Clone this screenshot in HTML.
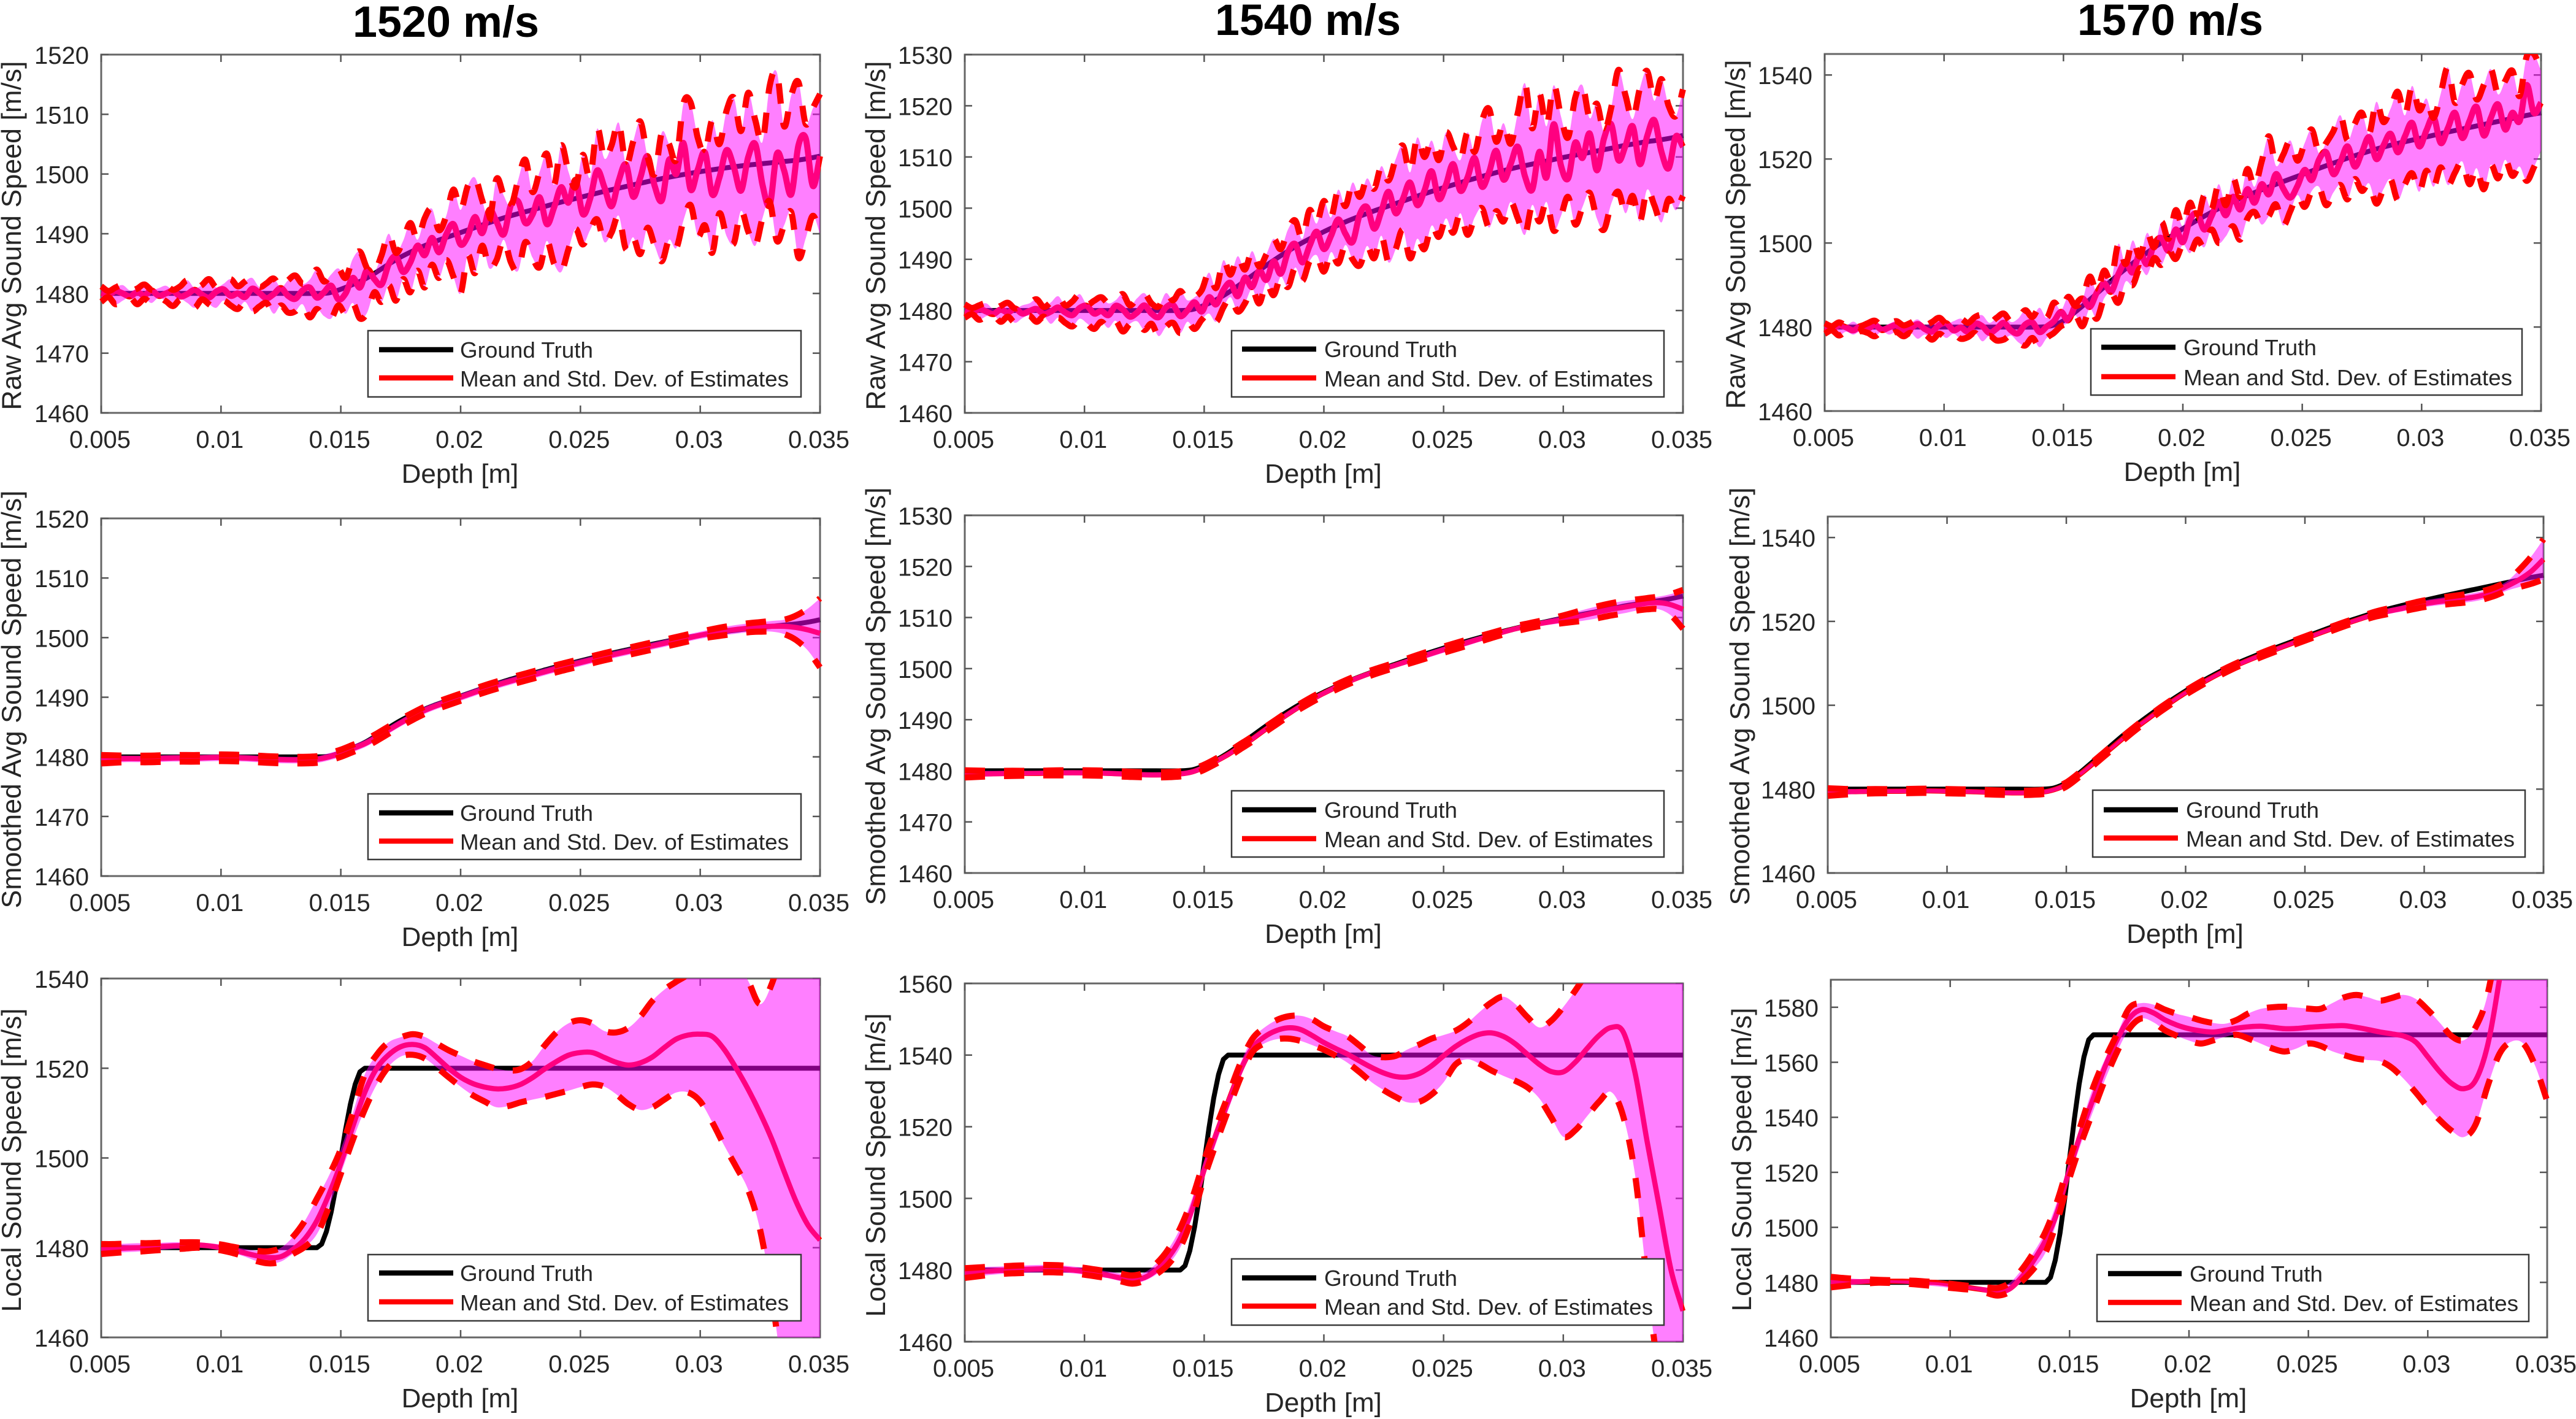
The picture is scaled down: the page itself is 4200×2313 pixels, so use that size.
<!DOCTYPE html>
<html lang="en">
<head>
<meta charset="utf-8">
<title>Sound speed estimates</title>
<style>
html,body{margin:0;padding:0;background:#fff;width:4200px;height:2313px;overflow:hidden}
svg{display:block}
text{font-family:"Liberation Sans",sans-serif;fill:#262626}
.ttl{font-weight:bold;font-size:71px;fill:#000}
</style>
</head>
<body>
<svg id="fig" xmlns="http://www.w3.org/2000/svg" width="4200" height="2313" viewBox="0 0 4200 2313">
<rect x="0" y="0" width="4200" height="2313" fill="#fff"/>
<text class="ttl" x="575" y="60" textLength="304" lengthAdjust="spacingAndGlyphs">1520 m/s</text>
<text class="ttl" x="1981" y="57" textLength="303" lengthAdjust="spacingAndGlyphs">1540 m/s</text>
<text class="ttl" x="3387" y="57" textLength="303" lengthAdjust="spacingAndGlyphs">1570 m/s</text>
</svg>
<script>
const xTicks=[0.005,0.01,0.015,0.02,0.025,0.03,0.035];
const xTickLabels=['0.005','0.01','0.015','0.02','0.025','0.03','0.035'];
const yTicks10to1520=[1460,1470,1480,1490,1500,1510,1520];
const yTicks10to1530=[1460,1470,1480,1490,1500,1510,1520,1530];
const yTicks20to1540=[1460,1480,1500,1520,1540];
const yTicks20to1560=[1460,1480,1500,1520,1540,1560];
const yTicks20to1580=[1460,1480,1500,1520,1540,1560,1580];
const legendEntries=['Ground Truth','Mean and Std. Dev. of Estimates'];
const xAxisTitle='Depth [m]';
const rawTitle='Raw Avg Sound Speed [m/s]';
const smoothTitle='Smoothed Avg Sound Speed [m/s]';
const localTitle='Local Sound Speed [m/s]';

const rawDepth=[0.005,0.0053,0.0056,0.0059,0.0062,0.0065,0.0068,0.0071,0.0074,0.0077,0.008,0.0083,0.0086,0.0089,0.0092,0.0095,0.0098,0.0101,0.0104,0.0107,0.011,0.0113,0.0116,0.0119,0.0122,0.0125,0.0128,0.0131,0.0134,0.0137,0.014,0.0143,0.0146,0.0149,0.0152,0.0155,0.0158,0.0161,0.0164,0.0167,0.017,0.0173,0.0176,0.0179,0.0182,0.0185,0.0188,0.0191,0.0194,0.0197,0.02,0.0203,0.0206,0.0209,0.0212,0.0215,0.0218,0.0221,0.0224,0.0227,0.023,0.0233,0.0236,0.0239,0.0242,0.0245,0.0248,0.0251,0.0254,0.0257,0.026,0.0263,0.0266,0.0269,0.0272,0.0275,0.0278,0.0281,0.0284,0.0287,0.029,0.0293,0.0296,0.0299,0.0302,0.0305,0.0308,0.0311,0.0314,0.0317,0.032,0.0323,0.0326,0.0329,0.0332,0.0335,0.0338,0.0341,0.0344,0.0347,0.035];
const smoothDepth=[0.005,0.006,0.007,0.008,0.009,0.01,0.011,0.012,0.013,0.014,0.0145,0.015,0.0155,0.016,0.0165,0.017,0.0175,0.018,0.0185,0.019,0.02,0.021,0.022,0.023,0.024,0.025,0.026,0.027,0.028,0.029,0.03,0.031,0.032,0.0325,0.033,0.0335,0.034,0.0345,0.035];
const localDepth=[0.005,0.0055,0.006,0.0065,0.007,0.0075,0.008,0.0085,0.009,0.0095,0.01,0.0105,0.011,0.0115,0.012,0.0125,0.013,0.0135,0.014,0.0145,0.015,0.0155,0.016,0.0165,0.017,0.0175,0.018,0.0185,0.019,0.0195,0.02,0.0205,0.021,0.0215,0.022,0.0225,0.023,0.0235,0.024,0.0245,0.025,0.0255,0.026,0.0265,0.027,0.0275,0.028,0.0285,0.029,0.0295,0.03,0.0305,0.031,0.0315,0.032,0.0325,0.033,0.0335,0.034,0.0345,0.035];
const stepDepth=[0.005,0.014,0.0142,0.0144,0.0146,0.0148,0.015,0.0152,0.0154,0.0156,0.0158,0.016,0.035];

const rawMean1520=[1480.1,1479.8,1480.4,1480.0,1479.5,1480.2,1479.7,1480.5,1479.6,1480.0,1480.4,1479.5,1479.9,1480.6,1479.8,1479.3,1480.3,1480.7,1479.6,1480.0,1479.4,1480.8,1480.1,1479.2,1479.9,1480.9,1479.6,1479.1,1480.5,1481.0,1479.3,1480.2,1481.3,1479.0,1480.0,1482.6,1481.0,1484.0,1482.4,1481.5,1484.9,1486.2,1483.6,1485.2,1488.0,1486.4,1489.3,1486.9,1489.9,1491.6,1488.2,1489.6,1492.8,1490.1,1494.0,1492.0,1489.9,1494.8,1495.4,1491.8,1493.2,1496.1,1491.6,1494.4,1497.8,1495.2,1499.0,1493.3,1495.8,1500.6,1497.8,1494.6,1498.9,1501.6,1496.2,1499.4,1503.0,1498.0,1495.6,1502.4,1500.0,1505.2,1497.4,1500.8,1503.6,1496.6,1499.4,1504.0,1501.2,1497.2,1502.8,1505.0,1498.2,1494.8,1503.4,1500.6,1496.6,1504.8,1506.0,1498.0,1503.0];
const rawUpper1520=[1481.2,1480.4,1481.0,1481.4,1480.5,1480.8,1481.5,1480.6,1480.9,1481.3,1480.6,1481.2,1482.2,1480.9,1481.4,1482.4,1481.0,1481.6,1482.4,1481.2,1482.0,1482.6,1481.1,1481.7,1482.5,1481.0,1482.2,1483.0,1481.6,1482.3,1484.0,1482.0,1483.2,1484.2,1482.6,1485.8,1487.0,1484.2,1483.6,1486.4,1490.0,1486.8,1488.8,1491.8,1489.0,1492.6,1494.2,1490.6,1493.0,1497.4,1494.0,1498.0,1499.4,1495.6,1492.2,1499.2,1496.4,1494.6,1499.0,1502.4,1497.0,1500.4,1503.4,1498.2,1504.8,1500.4,1497.8,1503.2,1499.4,1507.6,1502.6,1504.8,1508.6,1501.6,1505.4,1508.8,1503.0,1500.0,1507.0,1505.0,1502.4,1511.8,1512.0,1506.0,1503.6,1509.0,1505.0,1510.6,1512.8,1507.2,1513.6,1509.0,1505.4,1514.8,1517.0,1508.0,1513.2,1515.4,1508.4,1511.0,1513.4];
const rawLower1520=[1478.6,1479.4,1478.2,1478.8,1479.4,1478.2,1479.1,1478.4,1479.3,1478.7,1477.9,1479.0,1478.4,1477.6,1479.0,1478.2,1477.6,1478.8,1478.0,1477.4,1478.6,1477.0,1477.8,1478.4,1476.6,1478.0,1476.8,1477.0,1478.2,1476.0,1477.4,1476.2,1475.8,1478.0,1476.6,1478.4,1475.8,1476.8,1480.2,1478.6,1481.4,1478.8,1482.4,1480.2,1483.8,1481.0,1484.8,1482.6,1485.6,1482.8,1480.0,1486.4,1483.4,1488.0,1484.2,1485.6,1489.0,1485.2,1483.8,1488.6,1486.0,1484.4,1488.8,1485.0,1483.6,1487.4,1490.8,1488.2,1490.6,1492.4,1488.6,1490.2,1493.0,1487.4,1489.4,1486.6,1491.0,1488.0,1485.4,1489.0,1487.6,1492.2,1494.8,1489.6,1491.4,1486.8,1493.4,1489.6,1488.4,1493.8,1490.4,1488.0,1492.6,1495.4,1488.8,1491.4,1493.6,1486.0,1489.2,1493.0,1490.0];

const rawMean1540=[1479.9,1479.5,1480.3,1479.8,1479.3,1480.2,1479.6,1480.4,1479.4,1479.9,1480.3,1479.3,1479.8,1480.6,1479.6,1479.1,1480.5,1480.9,1479.4,1479.9,1479.1,1480.9,1480.2,1478.8,1479.6,1481.0,1479.4,1478.7,1480.6,1481.1,1478.9,1480.0,1481.6,1479.8,1482.6,1481.2,1484.0,1485.4,1482.8,1486.4,1484.6,1487.8,1486.0,1489.6,1487.2,1491.4,1493.0,1489.4,1492.6,1495.4,1492.0,1494.6,1497.8,1495.0,1493.4,1498.8,1500.2,1496.0,1499.4,1503.2,1499.0,1501.8,1505.0,1500.6,1503.4,1507.2,1501.8,1504.6,1508.6,1503.4,1506.0,1509.8,1504.2,1507.0,1511.2,1505.6,1508.6,1512.0,1506.2,1503.6,1511.0,1506.0,1516.4,1508.4,1505.8,1512.8,1509.8,1514.6,1507.4,1513.6,1516.4,1509.4,1512.2,1516.0,1508.6,1514.0,1517.2,1511.0,1507.8,1514.0,1512.0];
const rawUpper1540=[1481.2,1480.5,1481.0,1481.4,1480.3,1480.9,1481.5,1480.4,1481.0,1481.4,1482.2,1480.7,1481.6,1482.8,1481.0,1481.8,1483.2,1481.2,1481.9,1482.6,1481.4,1482.0,1483.2,1481.0,1482.4,1483.4,1481.4,1480.8,1483.4,1482.0,1483.8,1482.0,1482.6,1484.0,1487.4,1484.4,1489.8,1487.0,1490.6,1488.0,1491.6,1488.6,1491.0,1494.0,1492.0,1495.8,1497.6,1494.0,1499.6,1497.0,1501.4,1498.2,1503.6,1500.4,1505.0,1502.2,1505.8,1503.8,1508.2,1505.4,1509.6,1512.2,1507.0,1513.8,1510.0,1513.2,1509.4,1514.8,1512.0,1509.4,1514.8,1511.0,1517.0,1519.4,1513.0,1516.6,1512.6,1518.6,1524.4,1515.6,1522.4,1516.0,1524.0,1518.0,1513.8,1521.6,1524.0,1517.6,1520.4,1515.0,1519.6,1527.0,1522.0,1517.4,1523.4,1526.8,1521.0,1525.2,1520.0,1518.0,1523.2];
const rawLower1540=[1478.6,1479.3,1478.2,1478.9,1479.2,1477.8,1478.8,1477.6,1478.5,1479.0,1477.8,1478.8,1477.4,1478.6,1477.6,1476.9,1478.4,1477.5,1476.4,1477.8,1476.6,1478.0,1475.9,1477.4,1477.9,1476.2,1477.4,1475.0,1476.8,1477.6,1475.6,1477.8,1476.4,1478.2,1479.4,1477.8,1480.6,1482.6,1479.8,1481.4,1484.2,1481.4,1485.4,1483.0,1486.6,1484.6,1488.4,1485.8,1489.6,1490.8,1487.6,1491.4,1489.2,1492.8,1490.0,1488.8,1492.6,1490.2,1494.6,1489.4,1492.0,1495.8,1490.2,1494.0,1492.0,1496.6,1494.4,1498.0,1495.2,1499.0,1494.8,1498.2,1500.0,1496.2,1499.4,1497.4,1501.2,1498.0,1494.8,1500.6,1497.4,1501.2,1495.6,1498.4,1502.2,1496.8,1500.2,1503.0,1498.0,1495.8,1500.8,1503.2,1499.0,1502.4,1497.4,1503.6,1500.6,1497.2,1501.8,1499.6,1502.4];

const rawMean1570=[1480.0,1479.5,1480.4,1479.9,1479.2,1480.2,1479.6,1480.5,1479.3,1479.9,1480.4,1479.1,1479.7,1480.7,1479.5,1478.9,1480.5,1480.9,1479.2,1479.9,1478.9,1480.8,1480.2,1478.6,1479.6,1481.0,1479.2,1478.5,1480.6,1481.1,1478.8,1480.1,1481.4,1483.6,1481.6,1485.2,1486.8,1484.8,1488.2,1490.4,1488.4,1492.6,1495.4,1493.0,1497.6,1495.0,1499.8,1501.2,1498.2,1503.2,1500.2,1505.6,1507.0,1503.2,1506.4,1509.8,1506.6,1511.0,1508.0,1512.8,1509.6,1514.0,1511.6,1516.4,1513.0,1510.8,1513.6,1517.4,1515.0,1519.8,1521.6,1516.4,1519.4,1523.0,1518.2,1521.6,1525.2,1520.0,1523.2,1526.0,1521.6,1525.4,1528.6,1523.0,1526.8,1530.0,1523.8,1527.4,1531.0,1525.0,1529.0,1532.4,1525.6,1529.8,1533.0,1527.0,1531.0,1529.0,1537.6,1531.0,1533.4];
const rawUpper1570=[1480.9,1480.2,1481.1,1480.4,1481.3,1480.3,1480.9,1481.5,1480.2,1480.8,1481.4,1480.4,1481.0,1481.8,1480.5,1481.2,1482.2,1480.8,1481.4,1482.0,1481.0,1482.4,1482.8,1481.0,1482.2,1483.2,1481.2,1482.0,1484.0,1482.4,1484.6,1482.2,1485.8,1484.0,1487.2,1485.0,1486.6,1492.0,1488.4,1493.4,1491.2,1499.8,1495.0,1500.6,1496.8,1502.4,1499.0,1505.0,1501.0,1507.8,1504.0,1509.6,1505.2,1511.4,1508.0,1514.0,1509.0,1515.4,1511.0,1517.6,1513.4,1519.4,1525.4,1518.4,1521.0,1524.4,1519.6,1523.8,1527.0,1521.4,1523.8,1526.6,1530.4,1524.4,1528.4,1531.0,1526.0,1533.6,1528.8,1532.0,1536.0,1530.4,1537.4,1531.6,1534.4,1529.8,1535.6,1541.8,1533.4,1537.8,1540.4,1534.2,1537.6,1541.4,1535.4,1538.6,1541.0,1535.0,1544.4,1545.0,1541.0];
const rawLower1570=[1478.4,1479.2,1478.0,1478.9,1478.2,1479.0,1478.6,1477.8,1479.0,1478.2,1478.8,1477.8,1478.6,1477.2,1478.2,1477.0,1478.4,1477.4,1478.4,1477.2,1477.6,1478.6,1476.6,1477.9,1476.8,1477.0,1478.0,1476.4,1475.6,1477.4,1475.2,1477.4,1478.6,1480.2,1481.0,1482.8,1480.2,1484.4,1482.0,1486.8,1488.2,1485.8,1490.8,1490.0,1494.0,1492.4,1496.4,1494.8,1498.2,1496.2,1499.6,1497.6,1500.8,1499.0,1503.2,1500.0,1501.6,1504.0,1500.8,1505.8,1507.4,1504.4,1506.4,1509.2,1504.2,1507.6,1511.4,1508.6,1512.4,1513.4,1509.0,1512.0,1513.8,1510.4,1515.2,1512.4,1514.2,1509.4,1512.8,1515.2,1510.2,1514.0,1516.6,1512.2,1517.2,1513.4,1518.0,1513.8,1516.8,1519.4,1514.0,1517.8,1512.8,1518.6,1515.4,1519.8,1516.0,1518.2,1514.8,1518.0,1522.0];

const avgTruth1520=[1480,1480,1480,1480,1480,1480,1480,1480,1480,1480,1480.1,1480.7,1481.5,1482.4,1483.6,1484.9,1486.1,1487.1,1488,1488.8,1490.2,1491.6,1492.9,1494,1495.1,1496.1,1497.1,1498,1498.9,1499.7,1500.4,1501,1501.5,1501.7,1501.9,1502.1,1502.3,1502.6,1503];
const smoothMean1520=[1479.6,1479.7,1479.7,1479.8,1479.8,1479.9,1479.8,1479.6,1479.5,1479.6,1480,1480.6,1481.4,1482.2,1483.3,1484.5,1485.7,1486.8,1487.8,1488.6,1490,1491.4,1492.6,1493.7,1494.8,1495.8,1496.8,1497.7,1498.6,1499.5,1500.4,1501.1,1501.6,1501.8,1501.9,1501.9,1501.7,1501.3,1500.7];
const smoothUpper1520=[1480.3,1480.2,1480.2,1480.3,1480.3,1480.4,1480.3,1480.1,1480,1480.1,1480.6,1481.2,1482,1482.8,1483.9,1485.1,1486.3,1487.4,1488.4,1489.2,1490.6,1492,1493.2,1494.3,1495.4,1496.4,1497.4,1498.3,1499.2,1500.1,1501,1501.8,1502.4,1502.6,1502.8,1503,1503.7,1504.9,1506.6];
const smoothLower1520=[1478.9,1479.1,1479.1,1479.2,1479.2,1479.3,1479.2,1479,1478.9,1479,1479.4,1480,1480.8,1481.6,1482.7,1483.9,1485.1,1486.2,1487.2,1488,1489.4,1490.8,1492,1493.1,1494.2,1495.2,1496.2,1497.1,1498,1498.9,1499.8,1500.4,1500.9,1501,1501,1500.6,1499.6,1497.8,1495];

const avgTruth1540=[1480,1480,1480,1480,1480,1480,1480,1480,1480,1480,1480.2,1481,1482.1,1483.5,1485.1,1486.8,1488.5,1490.1,1491.6,1493,1495.4,1497.5,1499.3,1500.9,1502.5,1504,1505.4,1506.7,1507.9,1508.9,1509.9,1510.8,1511.7,1512.2,1512.6,1513,1513.3,1513.7,1514.2];
const smoothMean1540=[1479.4,1479.4,1479.5,1479.5,1479.6,1479.6,1479.5,1479.3,1479.2,1479.4,1479.8,1480.7,1481.9,1483.2,1484.7,1486.2,1487.9,1489.5,1491.1,1492.6,1495.2,1497.4,1499.2,1500.7,1502.2,1503.7,1505.1,1506.5,1507.8,1508.8,1509.6,1510.6,1511.6,1512,1512.4,1512.8,1512.9,1512.5,1511.6];
const smoothUpper1540=[1480.1,1480,1480,1480,1480.1,1480.1,1480,1479.8,1479.7,1479.9,1480.3,1481.2,1482.4,1483.7,1485.2,1486.7,1488.4,1490,1491.6,1493.1,1495.7,1497.9,1499.7,1501.2,1502.8,1504.3,1505.7,1507,1508.3,1509.3,1510.4,1511.7,1512.8,1513.2,1513.5,1513.8,1514.1,1514.6,1515.4];
const smoothLower1540=[1478.7,1478.9,1479,1479.1,1479.1,1479.1,1479,1478.8,1478.7,1478.9,1479.3,1480.2,1481.4,1482.7,1484.2,1485.7,1487.4,1489,1490.6,1492.1,1494.7,1496.9,1498.7,1500.2,1501.6,1503.1,1504.5,1506,1507.3,1508.3,1508.9,1509.5,1510.4,1510.8,1511.3,1511.6,1511.6,1510.4,1507.8];

const avgTruth1570=[1480,1480,1480,1480,1480,1480,1480,1480,1480,1480,1480.3,1481.5,1483.6,1486,1488.5,1491,1493.4,1495.6,1497.7,1499.7,1503.4,1506.7,1509.6,1512,1514.2,1516.3,1518.4,1520.4,1522.2,1523.7,1525,1526.3,1527.5,1528.1,1528.7,1529.3,1529.9,1530.5,1531];
const smoothMean1570=[1479.3,1479.4,1479.5,1479.5,1479.6,1479.5,1479.4,1479.2,1479.1,1479.3,1479.9,1481.1,1483.2,1485.5,1487.9,1490.3,1492.7,1495,1497.1,1499.2,1503,1506.3,1509.2,1511.6,1513.8,1515.9,1518,1520,1521.8,1523,1524.2,1525,1525.7,1526.3,1527.2,1528.5,1530,1532,1534.8];
const smoothUpper1570=[1480.2,1480,1480,1480,1480.1,1480,1479.9,1479.7,1479.6,1479.8,1480.4,1481.6,1483.7,1486,1488.4,1490.8,1493.2,1495.5,1497.6,1499.7,1503.5,1506.8,1509.7,1512.1,1514.3,1516.4,1518.5,1520.5,1522.4,1523.7,1525,1525.9,1526.7,1527.3,1528.2,1529.7,1532.4,1535.6,1539.6];
const smoothLower1570=[1478.4,1478.8,1479,1479,1479.1,1479,1478.9,1478.7,1478.6,1478.8,1479.4,1480.6,1482.7,1485,1487.4,1489.8,1492.2,1494.5,1496.6,1498.7,1502.5,1505.8,1508.7,1511.1,1513.3,1515.4,1517.5,1519.5,1521.2,1522.3,1523.4,1524.1,1524.7,1525.3,1526.2,1527.4,1528.2,1529,1530];

const localTruth1520=[1480,1480,1480.8,1483.6,1488,1493.6,1500,1506.4,1512,1516.4,1519.2,1520,1520];
const localMean1520=[1479.7,1479.8,1479.9,1480,1480.2,1480.3,1480.4,1480.5,1480.6,1480.4,1480,1479.5,1478.8,1478.2,1477.8,1478,1479.6,1482,1486,1491.8,1498.8,1507,1514.6,1520,1523,1524.8,1525.3,1524.6,1522.4,1520,1518,1516.6,1515.8,1515.4,1515.6,1516.4,1517.9,1519.8,1521.5,1522.9,1523.5,1523.5,1522.4,1521.3,1520.7,1521.2,1522.5,1524.6,1526.5,1527.4,1527.6,1527.1,1524.2,1520,1515.3,1510,1504,1497,1490.3,1485,1481.7];
const localUpper1520=[1480.8,1480.8,1480.9,1481,1481,1481.1,1481.2,1481.2,1481.2,1481,1480.7,1480.2,1479.7,1479.3,1479.2,1480,1482.4,1486,1490.9,1496,1502,1510,1518.6,1523,1525.8,1526.9,1527.6,1527,1525.5,1524,1522.8,1521.6,1520.7,1519.9,1519.5,1519.8,1521.6,1525,1528,1530,1530.7,1530,1528.3,1528,1529,1531.5,1535,1537.5,1539.3,1541,1544,1546,1547,1544,1539.5,1534.3,1539,1548,1556,1560,1565];
const localLower1520=[1478.6,1478.8,1479,1479.1,1479.3,1479.5,1479.7,1479.8,1480,1479.8,1479.4,1478.8,1478,1477,1476.5,1476.9,1478.6,1480.2,1483,1489,1496.5,1504,1510.8,1516.4,1520.4,1522.6,1523,1522.2,1520.2,1518,1515.9,1514,1512.6,1511.3,1511.6,1512.4,1513,1513.6,1514.3,1515,1515.8,1516.4,1515.9,1514.2,1512,1510.7,1511.3,1513,1514.6,1514.6,1512.6,1508,1502.8,1498,1492.9,1484,1469,1450,1447,1446,1445];

const localTruth1540=[1480,1480,1481.2,1485.4,1492,1500.4,1510,1519.6,1528,1534.6,1538.8,1540,1540];
const localMean1540=[1479.2,1479.5,1479.7,1479.9,1480,1480.2,1480.3,1480.4,1480.3,1480,1479.6,1479.1,1478.5,1477.8,1477.3,1477.9,1480,1483.5,1488.8,1497,1508,1518,1527,1535.5,1541.9,1545,1546.8,1547.6,1547.2,1545.5,1543.5,1541.8,1540.2,1538.3,1536.5,1535,1534,1533.9,1534.9,1537,1539.8,1542.4,1544.4,1545.8,1546.2,1545.2,1543.1,1540.2,1537.4,1535.4,1535.3,1538,1541.9,1545.5,1547.7,1546.5,1535,1516,1498,1480,1468.6];
const localUpper1540=[1480.5,1480.7,1480.9,1481,1481.2,1481.3,1481.4,1481.4,1481.3,1481,1480.6,1480.1,1479.6,1479,1478.5,1479.3,1481.8,1485.8,1491.7,1500,1510.6,1520,1528.7,1537.5,1544.4,1547.6,1549.7,1550.8,1551,1550,1548,1546.6,1545.2,1542.6,1540,1539.4,1539.8,1541.6,1543,1544.6,1545.6,1546.8,1549,1552,1554.7,1556.3,1554.2,1550.6,1547.7,1549.6,1553.4,1558,1563,1567,1570,1575,1580,1585,1590,1595,1600];
const localLower1540=[1477.8,1478.2,1478.6,1478.9,1479.1,1479.2,1479.3,1479.4,1479.3,1479.1,1478.7,1478.2,1477.7,1476.9,1476.2,1477,1478.8,1481.6,1486.3,1494.6,1505.7,1515.4,1524.6,1533.4,1540.7,1543.2,1544.4,1544.6,1544,1542.8,1541.5,1539.8,1537.8,1535.2,1532.4,1530.2,1528.3,1526.8,1527,1529,1532.4,1537.4,1538.8,1537.6,1535.7,1534.2,1532.8,1531,1527.9,1522.6,1517.2,1519,1523,1527,1529.7,1523,1506.5,1477,1452,1448,1445];

const localTruth1570=[1480,1480,1481.8,1488.1,1498,1510.6,1525,1539.4,1552,1561.9,1568.2,1570,1570];
const localMean1570=[1480,1480.1,1480.2,1480.3,1480.4,1480.4,1480.4,1480.3,1480.1,1479.9,1479.3,1478.5,1477.8,1477.2,1476.6,1477.7,1482,1488,1495.4,1506,1521.2,1535,1547,1558.7,1568.4,1576,1579.1,1578,1575.4,1573.5,1572.2,1571.4,1571,1571.6,1572.4,1572.9,1573.1,1572.7,1572.2,1572.3,1572.7,1573,1573.2,1573.3,1572.7,1571.9,1571,1570.3,1569.5,1567.3,1562,1556.6,1552.3,1550.4,1553.4,1566,1590,1620,1640,1650,1660];
const localUpper1570=[1482,1481.6,1481.3,1481.1,1480.9,1480.8,1480.7,1480.6,1480.3,1480,1479.5,1479,1478.5,1478.2,1478,1479.9,1484.7,1491,1498.6,1510,1524.4,1538,1551.2,1561.5,1570.5,1579.7,1581.5,1581,1579.1,1577.6,1576.5,1575.2,1574.3,1574,1575.4,1577.8,1579.4,1580,1580.2,1579.9,1579.5,1579.4,1581.5,1583.6,1584.5,1583.6,1582.4,1583.4,1584.5,1583,1579.1,1574.4,1569.5,1568,1572.7,1584.5,1610,1650,1680,1700,1720];
const localLower1570=[1478.2,1478.7,1479.2,1479.6,1479.9,1479.8,1479.6,1479.3,1478.9,1478.5,1478,1477.6,1477.2,1476.2,1475.2,1476.6,1480.4,1485,1491,1503,1518,1531,1542.6,1554,1564,1572.2,1575.9,1574.6,1571.6,1569.6,1567.9,1566.8,1567.9,1569.2,1570,1568.6,1566.8,1565,1563.9,1565,1566.8,1566,1564,1562.6,1561.4,1560.8,1560.4,1558,1553.9,1549,1543.7,1539,1535.1,1532.8,1537.3,1551.2,1563,1567.5,1566.8,1558.7,1545.9];

const NS='http://www.w3.org/2000/svg';
const fig=document.getElementById('fig');
function mk(tag,attrs,parent){
  const node=document.createElementNS(NS,tag);
  for(const k in attrs){node.setAttribute(k,attrs[k]);}
  parent.appendChild(node);
  return node;
}
function spline(xs,ys,lead){
  const n=xs.length;
  const m=[];
  for(let i=0;i<n;i++){
    const a=Math.max(i-1,0),b=Math.min(i+1,n-1);
    m.push((ys[b]-ys[a])/(xs[b]-xs[a]));
  }
  let d=lead+xs[0].toFixed(1)+' '+ys[0].toFixed(1);
  for(let i=0;i<n-1;i++){
    const h=(xs[i+1]-xs[i])/3;
    d+='C'+(xs[i]+h).toFixed(1)+' '+(ys[i]+m[i]*h).toFixed(1)+' '+(xs[i+1]-h).toFixed(1)+' '+(ys[i+1]-m[i+1]*h).toFixed(1)+' '+xs[i+1].toFixed(1)+' '+ys[i+1].toFixed(1);
  }
  return d;
}
const panels=[
 {id:'raw-1520',l:165,r:1337,t:89,b:673,top:1520,ticks:yTicks10to1520,title:rawTitle,titleX:34,titleLen:569,titleY:384,depth:rawDepth,truthDepth:smoothDepth,truth:avgTruth1520,mean:rawMean1520,upper:rawUpper1520,lower:rawLower1520,lg:[600,1306,539,647,618,739,570,616,750],mw:10},
 {id:'raw-1540',l:1573,r:2744,t:89,b:673,top:1530,ticks:yTicks10to1530,title:rawTitle,titleX:1443,titleLen:569,titleY:384,depth:rawDepth,truthDepth:smoothDepth,truth:avgTruth1540,mean:rawMean1540,upper:rawUpper1540,lower:rawLower1540,lg:[2008,2713,539,647,2025,2146,569,616,2159],mw:10},
 {id:'raw-1570',l:2975,r:4143,t:88,b:670,top:1545,ticks:yTicks20to1540,title:rawTitle,titleX:2845,titleLen:569,titleY:382,depth:rawDepth,truthDepth:smoothDepth,truth:avgTruth1570,mean:rawMean1570,upper:rawUpper1570,lower:rawLower1570,lg:[3409,4112,536,644,3426,3547,566,614,3560],mw:10},
 {id:'smoothed-1520',l:165,r:1337,t:845,b:1428,top:1520,ticks:yTicks10to1520,title:smoothTitle,titleX:34,titleLen:681,titleY:1140,depth:smoothDepth,truthDepth:smoothDepth,truth:avgTruth1520,mean:smoothMean1520,upper:smoothUpper1520,lower:smoothLower1520,lg:[600,1306,1294,1401,618,739,1325,1371,750],mw:8.5},
 {id:'smoothed-1540',l:1573,r:2744,t:840,b:1423,top:1530,ticks:yTicks10to1530,title:smoothTitle,titleX:1443,titleLen:681,titleY:1135,depth:smoothDepth,truthDepth:smoothDepth,truth:avgTruth1540,mean:smoothMean1540,upper:smoothUpper1540,lower:smoothLower1540,lg:[2008,2713,1289,1397,2025,2146,1320,1367,2159],mw:8.5},
 {id:'smoothed-1570',l:2980,r:4147,t:842,b:1423,top:1545,ticks:yTicks20to1540,title:smoothTitle,titleX:2852,titleLen:681,titleY:1135,depth:smoothDepth,truthDepth:smoothDepth,truth:avgTruth1570,mean:smoothMean1570,upper:smoothUpper1570,lower:smoothLower1570,lg:[3412,4117,1288,1397,3430,3551,1320,1366,3564],mw:8.5},
 {id:'local-1520',l:165,r:1337,t:1595,b:2180,top:1540,ticks:yTicks20to1540,title:localTitle,titleX:34,titleLen:495,titleY:1891,depth:localDepth,truthDepth:stepDepth,truth:localTruth1520,mean:localMean1520,upper:localUpper1520,lower:localLower1520,lg:[600,1306,2045,2153,618,739,2075,2122,750],step:true,mw:8.5},
 {id:'local-1540',l:1573,r:2744,t:1603,b:2187,top:1560,ticks:yTicks20to1560,title:localTitle,titleX:1443,titleLen:495,titleY:1899,depth:localDepth,truthDepth:stepDepth,truth:localTruth1540,mean:localMean1540,upper:localUpper1540,lower:localLower1540,lg:[2008,2713,2052,2160,2025,2146,2083,2129,2159],step:true,mw:8.5},
 {id:'local-1570',l:2985,r:4153,t:1597,b:2180,top:1590,ticks:yTicks20to1580,title:localTitle,titleX:2855,titleLen:495,titleY:1890,depth:localDepth,truthDepth:stepDepth,truth:localTruth1570,mean:localMean1570,upper:localUpper1570,lower:localLower1570,lg:[3419,4123,2045,2154,3437,3557,2076,2123,3570],step:true,mw:8.5}
];
const defs=mk('defs',{},fig);
panels.forEach(function(p){
  const X=function(v){return p.l+(v-0.005)/0.03*(p.r-p.l);};
  const Y=function(v){return p.b-(v-1460)/(p.top-1460)*(p.b-p.t);};
  const g=mk('g',{},fig);
  
  
  const clip=mk('clipPath',{id:'clip-'+p.id},defs);
  mk('rect',{x:p.l-5,y:p.t,width:p.r-p.l+10,height:p.b-p.t},clip);
  const fclip=mk('clipPath',{id:'fclip-'+p.id},defs);
  mk('rect',{x:p.l,y:p.t,width:p.r-p.l,height:p.b-p.t},fclip);

  const frame=mk('rect',{x:p.l,y:p.t,width:p.r-p.l,height:p.b-p.t,fill:'#fff',stroke:'#666','stroke-width':3},g);
  
  

  xTicks.forEach(function(v,i){
    const x=X(v);
    const tb=mk('line',{x1:x,x2:x,y1:p.b,y2:p.b-12,stroke:'#555','stroke-width':2.5},g);
    
    
    const tt=mk('line',{x1:x,x2:x,y1:p.t,y2:p.t+12,stroke:'#555','stroke-width':2.5},g);
    
    
    const lab=mk('text',{x:x-2,y:p.b+57,'text-anchor':'middle','font-size':40},g);
    lab.textContent=xTickLabels[i];
    
    
  });
  p.ticks.forEach(function(v){
    const y=Y(v);
    const tl=mk('line',{x1:p.l,x2:p.l+12,y1:y,y2:y,stroke:'#555','stroke-width':2.5},g);
    
    
    const tr=mk('line',{x1:p.r,x2:p.r-12,y1:y,y2:y,stroke:'#555','stroke-width':2.5},g);
    
    
    const lab=mk('text',{x:p.l-20,y:y+15,'text-anchor':'end','font-size':40},g);
    lab.textContent=String(v);
    
    
  });
  const xt=mk('text',{x:(p.l+p.r)/2-1,y:p.b+114,'text-anchor':'middle','font-size':44},g);
  xt.textContent=xAxisTitle;
  
  
  const yt=mk('text',{transform:'translate('+p.titleX+' '+p.titleY+') rotate(-90)','text-anchor':'middle','font-size':44.5,textLength:p.titleLen,lengthAdjust:'spacingAndGlyphs'},g);
  yt.textContent=p.title;
  
  

  const dataG=mk('g',{'clip-path':'url(#clip-'+p.id+')',fill:'none'},g);
  
  
  const tx=p.truthDepth.map(X),ty=p.truth.map(Y);
  const truthD=p.step?'M'+tx.map(function(x,i){return x.toFixed(1)+' '+ty[i].toFixed(1);}).join('L'):spline(tx,ty,'M');
  const truth=mk('path',{d:truthD,stroke:'#000','stroke-width':8,'stroke-linejoin':'round'},dataG);
  
  
  const xs=p.depth.map(X);
  const mean=mk('path',{d:spline(xs,p.mean.map(Y),'M'),stroke:'#f00','stroke-width':p.mw,'stroke-linejoin':'round'},dataG);
  
  
  const uy=p.upper.map(Y),ly=p.lower.map(Y);
  const areaD=spline(xs,uy,'M')+spline(xs.slice().reverse(),ly.slice().reverse(),'L')+'Z';
  const band=mk('path',{d:areaD,fill:'#f0f','fill-opacity':0.5,stroke:'none','clip-path':'url(#fclip-'+p.id+')'},dataG);
  
  
  const up=mk('path',{d:spline(xs,uy,'M'),stroke:'#f00','stroke-width':10,'stroke-dasharray':'33 31'},dataG);
  
  
  const lo=mk('path',{d:spline(xs,ly,'M'),stroke:'#f00','stroke-width':10,'stroke-dasharray':'33 31'},dataG);
  
  

  const L=p.lg;
  const lg=mk('g',{},g);
  
  
  const box=mk('rect',{x:L[0],y:L[2],width:L[1]-L[0],height:L[3]-L[2],fill:'#fff',stroke:'#3a3a3a','stroke-width':2.5},lg);
  
  
  const s1=mk('line',{x1:L[4],x2:L[5],y1:L[6],y2:L[6],stroke:'#000','stroke-width':8.5},lg);
  
  
  const s2=mk('line',{x1:L[4],x2:L[5],y1:L[7],y2:L[7],stroke:'#f00','stroke-width':8.5},lg);
  
  
  const t1=mk('text',{x:L[8],y:L[6]+13,'font-size':36.5,fill:'#000',textLength:217,lengthAdjust:'spacingAndGlyphs'},lg);
  t1.textContent=legendEntries[0];
  
  
  const t2=mk('text',{x:L[8],y:L[7]+14,'font-size':36.5,fill:'#000',textLength:536,lengthAdjust:'spacingAndGlyphs'},lg);
  t2.textContent=legendEntries[1];
  
  
});
</script>
</body>
</html>
